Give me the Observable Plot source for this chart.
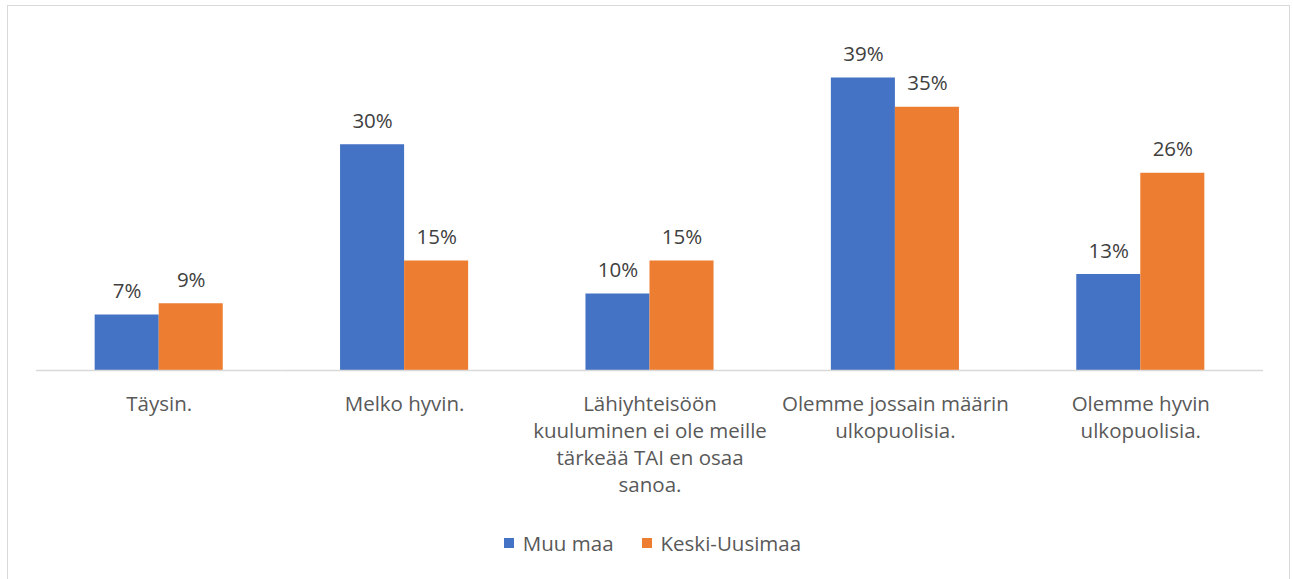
<!DOCTYPE html>
<html>
<head>
<meta charset="utf-8">
<script src="https://cdn.jsdelivr.net/npm/d3@7"></script>
<script src="https://cdn.jsdelivr.net/npm/@observablehq/plot@0.6"></script>
<style>
  body { margin: 0; background: #fff; font-family: "Open Sans", sans-serif; }
  #frame { position: absolute; left: 7px; top: 5px; width: 1283px; height: 600px; border: 1.5px solid #d9d9d9; box-sizing: border-box; }
  #chart { position: absolute; left: 0; top: 0; }
  #legend { position: absolute; top: 529px; left: 0; width: 1293px; display: flex; justify-content: center; gap: 28px; font-size: 20.5px; color: #595959; padding-left: 12px; box-sizing: border-box; }
  #legend span.item { display: flex; align-items: center; }
  #legend span.sw { display: inline-block; width: 10px; height: 10px; margin-right: 9px; }
</style>
</head>
<body>
<div id="frame"></div>
<div id="chart"></div>
<div id="legend"></div>
<script>
const categories = ["Täysin.", "Melko hyvin.", "Lähiyhteisöön kuuluminen ei ole meille tärkeää TAI en osaa sanoa.", "Olemme jossain määrin ulkopuolisia.", "Olemme hyvin ulkopuolisia."];
const tickLabels = ["Täysin.", "Melko hyvin.", "Lähiyhteisöön\nkuuluminen ei ole meille\ntärkeää TAI en osaa\nsanoa.", "Olemme jossain määrin\nulkopuolisia.", "Olemme hyvin\nulkopuolisia."];
const series = ["Muu maa", "Keski-Uusimaa"];
const colors = ["#4472C4", "#ED7D31"];
const muuMaa = [7.4, 30.1, 10.2, 39.0, 12.8];
const keskiUusimaa = [8.9, 14.6, 14.6, 35.1, 26.3];

const data = [];
categories.forEach((c, i) => {
  data.push({category: c, series: series[0], value: muuMaa[i]});
  data.push({category: c, series: series[1], value: keskiUusimaa[i]});
});
const labelOf = new Map(categories.map((c, i) => [c, tickLabels[i]]));

const chart = Plot.plot({
  width: 1293,
  height: 520,
  marginLeft: 36,
  marginRight: 30,
  marginTop: 40,
  marginBottom: 150,
  style: {fontFamily: "'Open Sans', sans-serif", background: "transparent"},
  fx: {domain: categories, paddingInner: 0, paddingOuter: 0, round: false, label: null, axis: null},
  x: {domain: series, paddingInner: 0, paddingOuter: 0.916, round: false, axis: null},
  y: {domain: [0, 44], axis: null},
  color: {domain: series, range: colors},
  marks: [
    Plot.barY(data, {fx: "category", x: "series", y: "value", fill: "series"}),
    Plot.ruleY([0], {stroke: "#d9d9d9", strokeWidth: 1.5}),
    Plot.text(data, {fx: "category", x: "series", y: "value", text: d => Math.round(d.value) + "%", lineAnchor: "bottom", dy: -17, fill: "#404040", fontSize: 20.5}),
    Plot.axisFx({domain: categories, anchor: "bottom", tickSize: 0, tickPadding: 21, label: null, tickFormat: c => labelOf.get(c), fontSize: 20.5, color: "#595959", lineHeight: 1.317})
  ]
});
document.getElementById("chart").appendChild(chart);

const legend = document.getElementById("legend");
series.forEach((s, i) => {
  const item = document.createElement("span");
  item.className = "item";
  const sw = document.createElement("span");
  sw.className = "sw";
  sw.style.background = colors[i];
  item.appendChild(sw);
  item.appendChild(document.createTextNode(s));
  legend.appendChild(item);
});
</script>
</body>
</html>
